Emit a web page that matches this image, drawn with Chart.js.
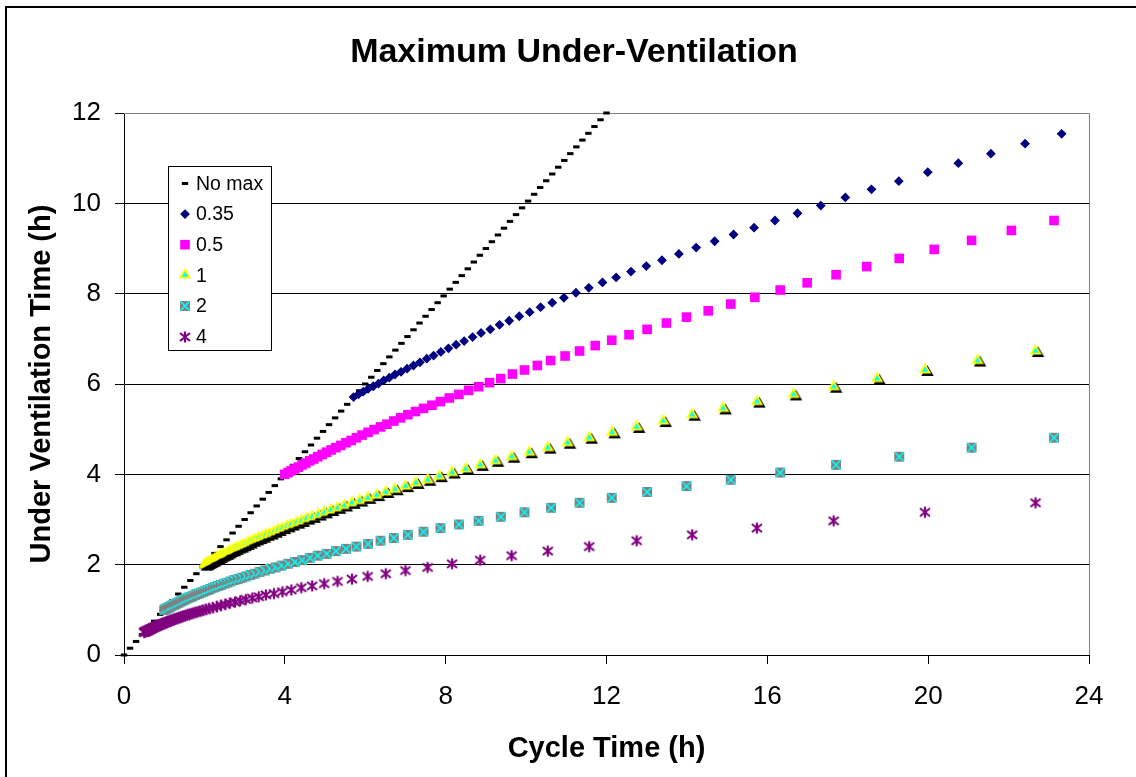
<!DOCTYPE html>
<html>
<head>
<meta charset="utf-8">
<script src="https://cdn.jsdelivr.net/npm/chart.js@4/dist/chart.umd.min.js"></script>
<style>
html,body{margin:0;padding:0;background:#fff;}
#wrap{position:relative;width:1136px;height:777px;overflow:hidden;}
</style>
</head>
<body>
<div id="wrap"><canvas id="c" width="1136" height="777"></canvas></div>
<script>
// ---------- texts & ticks ----------
const chartTitle = 'Maximum Under-Ventilation';
const xAxisTitle = 'Cycle Time (h)';
const yAxisTitle = 'Under Ventilation Time (h)';
const seriesLabels = ['No max', '0.35', '0.5', '1', '2', '4'];
const xTickValues = [0, 4, 8, 12, 16, 20, 24];
const yTickValues = [0, 2, 4, 6, 8, 10, 12];

// ---------- data (cycle time x, under-ventilation time y) ----------
const noMaxX = [0,0.15,0.3,0.45,0.6,0.75,0.9,1.05,1.2,1.35,1.5,1.65,1.8,1.95,2.1,2.25,2.4,2.55,2.7,2.85,3,3.15,3.3,3.45,3.6,3.75,3.9,4.05,4.2,4.35,4.5,4.65,4.8,4.95,5.1,5.25,5.4,5.55,5.7,5.85,6,6.15,6.3,6.45,6.6,6.75,6.9,7.05,7.2,7.35,7.5,7.65,7.8,7.95,8.1,8.25,8.4,8.55,8.7,8.85,9,9.15,9.3,9.45,9.6,9.75,9.9,10.05,10.2,10.35,10.5,10.65,10.8,10.95,11.1,11.25,11.4,11.55,11.7,11.85,12];
const noMaxY = [0,0.15,0.3,0.45,0.6,0.75,0.9,1.05,1.2,1.35,1.5,1.65,1.8,1.95,2.1,2.25,2.4,2.55,2.7,2.85,3,3.15,3.3,3.45,3.6,3.75,3.9,4.05,4.2,4.35,4.5,4.65,4.8,4.95,5.1,5.25,5.4,5.55,5.7,5.85,6,6.15,6.3,6.45,6.6,6.75,6.9,7.05,7.2,7.35,7.5,7.65,7.8,7.95,8.1,8.25,8.4,8.55,8.7,8.85,9,9.15,9.3,9.45,9.6,9.75,9.9,10.05,10.2,10.35,10.5,10.65,10.8,10.95,11.1,11.25,11.4,11.55,11.7,11.85,12];

const s035X = [5.71,5.83,5.95,6.07,6.20,6.33,6.46,6.60,6.74,6.89,7.04,7.20,7.36,7.53,7.70,7.88,8.07,8.26,8.46,8.67,8.88,9.11,9.34,9.58,9.83,10.09,10.36,10.65,10.94,11.24,11.56,11.90,12.24,12.61,12.99,13.38,13.80,14.23,14.69,15.16,15.67,16.19,16.75,17.33,17.94,18.59,19.27,19.99,20.75,21.56,22.41,23.32];
const s035Y = [5.71,5.77,5.83,5.89,5.95,6.01,6.08,6.14,6.21,6.27,6.34,6.41,6.48,6.56,6.63,6.71,6.79,6.87,6.95,7.04,7.13,7.21,7.31,7.40,7.50,7.59,7.70,7.80,7.91,8.02,8.13,8.25,8.36,8.49,8.61,8.74,8.88,9.02,9.16,9.31,9.46,9.62,9.78,9.95,10.13,10.31,10.49,10.69,10.89,11.10,11.32,11.54];

const s05X = [4.00,4.08,4.16,4.25,4.34,4.43,4.52,4.62,4.72,4.82,4.93,5.04,5.15,5.27,5.39,5.52,5.65,5.78,5.92,6.07,6.22,6.38,6.54,6.71,6.88,7.06,7.25,7.45,7.66,7.87,8.09,8.33,8.57,8.82,9.09,9.37,9.66,9.96,10.28,10.61,10.97,11.33,11.72,12.13,12.56,13.01,13.49,13.99,14.53,15.09,15.69,16.32,16.99,17.71,18.47,19.28,20.15,21.08,22.07,23.13];
const s05Y = [4.00,4.04,4.08,4.12,4.16,4.21,4.25,4.30,4.34,4.39,4.44,4.49,4.54,4.59,4.64,4.70,4.75,4.81,4.87,4.93,4.99,5.05,5.11,5.18,5.25,5.32,5.39,5.46,5.53,5.61,5.69,5.77,5.86,5.94,6.03,6.12,6.22,6.31,6.41,6.52,6.62,6.73,6.85,6.97,7.09,7.21,7.35,7.48,7.62,7.77,7.92,8.08,8.24,8.42,8.60,8.78,8.98,9.18,9.40,9.62];

const s1X = [2.00,2.04,2.08,2.12,2.17,2.21,2.26,2.31,2.36,2.41,2.46,2.52,2.58,2.63,2.70,2.76,2.82,2.89,2.96,3.03,3.11,3.19,3.27,3.35,3.44,3.53,3.63,3.73,3.83,3.94,4.05,4.16,4.29,4.41,4.54,4.68,4.83,4.98,5.14,5.31,5.48,5.67,5.86,6.06,6.28,6.51,6.74,7.00,7.26,7.55,7.84,8.16,8.50,8.86,9.24,9.64,10.08,10.54,11.03,11.57,12.14,12.75,13.41,14.13,14.90,15.74,16.65,17.65,18.73,19.92,21.23,22.67];
const s1Y = [2.00,2.02,2.04,2.06,2.08,2.10,2.13,2.15,2.17,2.20,2.22,2.24,2.27,2.30,2.32,2.35,2.38,2.40,2.43,2.46,2.49,2.53,2.56,2.59,2.62,2.66,2.69,2.73,2.77,2.81,2.85,2.89,2.93,2.97,3.02,3.06,3.11,3.16,3.21,3.26,3.31,3.37,3.42,3.48,3.54,3.61,3.67,3.74,3.81,3.88,3.96,4.04,4.12,4.21,4.30,4.39,4.49,4.59,4.70,4.81,4.93,5.05,5.18,5.32,5.46,5.61,5.77,5.94,6.12,6.31,6.52,6.73];

const s2X = [1.00,1.02,1.04,1.06,1.08,1.11,1.13,1.15,1.18,1.21,1.23,1.26,1.29,1.32,1.35,1.38,1.41,1.45,1.48,1.52,1.55,1.59,1.63,1.68,1.72,1.77,1.81,1.86,1.91,1.97,2.02,2.08,2.14,2.21,2.27,2.34,2.41,2.49,2.57,2.65,2.74,2.83,2.93,3.03,3.14,3.25,3.37,3.50,3.63,3.77,3.92,4.08,4.25,4.43,4.62,4.82,5.04,5.27,5.52,5.78,6.07,6.38,6.71,7.06,7.45,7.87,8.33,8.82,9.37,9.96,10.62,11.33,12.13,13.01,13.99,15.09,16.32,17.71,19.28,21.08,23.13];
const s2Y = [1.00,1.01,1.02,1.03,1.04,1.05,1.06,1.07,1.09,1.10,1.11,1.12,1.13,1.15,1.16,1.17,1.19,1.20,1.22,1.23,1.25,1.26,1.28,1.29,1.31,1.33,1.35,1.36,1.38,1.40,1.42,1.44,1.46,1.49,1.51,1.53,1.55,1.58,1.60,1.63,1.66,1.68,1.71,1.74,1.77,1.80,1.84,1.87,1.91,1.94,1.98,2.02,2.06,2.10,2.15,2.20,2.24,2.30,2.35,2.40,2.46,2.53,2.59,2.66,2.73,2.81,2.89,2.97,3.06,3.16,3.26,3.37,3.48,3.61,3.74,3.88,4.04,4.21,4.39,4.59,4.81];

const s4X = [0.50,0.51,0.52,0.53,0.54,0.55,0.57,0.58,0.59,0.60,0.62,0.63,0.64,0.66,0.67,0.69,0.71,0.72,0.74,0.76,0.78,0.80,0.82,0.84,0.86,0.88,0.91,0.93,0.96,0.98,1.01,1.04,1.07,1.10,1.14,1.17,1.21,1.25,1.29,1.33,1.37,1.42,1.47,1.52,1.57,1.63,1.69,1.75,1.82,1.89,1.96,2.04,2.12,2.21,2.31,2.41,2.52,2.63,2.76,2.89,3.03,3.19,3.35,3.53,3.73,3.94,4.16,4.41,4.68,4.98,5.31,5.67,6.06,6.51,7.00,7.55,8.16,8.86,9.64,10.54,11.57,12.75,14.13,15.74,17.65,19.92,22.67];
const s4Y = [0.50,0.51,0.51,0.52,0.52,0.53,0.53,0.54,0.54,0.55,0.55,0.56,0.57,0.57,0.58,0.59,0.59,0.60,0.61,0.62,0.62,0.63,0.64,0.65,0.66,0.66,0.67,0.68,0.69,0.70,0.71,0.72,0.73,0.74,0.75,0.77,0.78,0.79,0.80,0.81,0.83,0.84,0.86,0.87,0.89,0.90,0.92,0.94,0.95,0.97,0.99,1.01,1.03,1.05,1.07,1.10,1.12,1.15,1.17,1.20,1.23,1.26,1.29,1.33,1.36,1.40,1.44,1.49,1.53,1.58,1.63,1.68,1.74,1.80,1.87,1.94,2.02,2.10,2.20,2.30,2.40,2.53,2.66,2.81,2.97,3.16,3.37];

// ---------- helpers ----------
const FONT = "'Liberation Sans', Arial, Helvetica, sans-serif";
function pts(xs, ys) { return xs.map((x, i) => ({ x: x, y: ys[i] })); }
function mk(w, h) { const c = document.createElement('canvas'); c.width = w; c.height = h; return c; }

function triPath(ctx, cx, cy, r) {
  ctx.beginPath();
  ctx.moveTo(cx, cy - r);
  ctx.lineTo(cx + r * 0.866, cy + r * 0.5);
  ctx.lineTo(cx - r * 0.866, cy + r * 0.5);
  ctx.closePath();
}
function triangleMarker(withShadow) {
  const c = mk(22, 22), g = c.getContext('2d');
  g.lineJoin = 'miter';
  if (withShadow) {
    triPath(g, 13.5, 13.5, 5.4);
    g.fillStyle = '#000'; g.strokeStyle = '#000'; g.lineWidth = 1.8;
    g.fill(); g.stroke();
  }
  triPath(g, 11, 11, 5.4);
  g.fillStyle = '#00FFFF'; g.fill();
  g.strokeStyle = '#FFFF00'; g.lineWidth = 1.8; g.stroke();
  return c;
}
function squareXMarker() {
  const c = mk(12, 12), g = c.getContext('2d');
  g.fillStyle = '#808080'; g.fillRect(1, 1, 10, 10);
  g.strokeStyle = '#00FFFF'; g.lineWidth = 1.6;
  g.beginPath(); g.moveTo(1.5, 1.5); g.lineTo(10.5, 10.5); g.moveTo(10.5, 1.5); g.lineTo(1.5, 10.5); g.stroke();
  return c;
}
function starMarker() {
  const c = mk(14, 14), g = c.getContext('2d');
  g.strokeStyle = '#800080'; g.lineWidth = 2.2;
  g.beginPath();
  g.moveTo(7, 1.5); g.lineTo(7, 12.5);
  g.moveTo(2, 3); g.lineTo(12, 11);
  g.moveTo(12, 3); g.lineTo(2, 11);
  g.stroke();
  return c;
}
const triShadow = triangleMarker(true);
const triPlain = triangleMarker(false);
const sqX = squareXMarker();
const star = starMarker();

// ---------- plugins ----------
function drawMarker(ctx, ds, x, y) {
  const style = ds.legendPointStyle || ds.pointStyle;
  if (style instanceof HTMLCanvasElement) {
    ctx.drawImage(style, Math.round(x - style.width / 2), Math.round(y - style.height / 2));
    return;
  }
  const r = ds.pointRadius;
  ctx.save();
  ctx.fillStyle = ds.pointBackgroundColor;
  ctx.strokeStyle = ds.pointBorderColor;
  ctx.lineWidth = ds.pointBorderWidth;
  ctx.beginPath();
  if (style === 'rectRot') {
    ctx.moveTo(x, y - r); ctx.lineTo(x + r, y); ctx.lineTo(x, y + r); ctx.lineTo(x - r, y); ctx.closePath(); ctx.fill();
  } else if (style === 'rect') {
    const s = r * Math.SQRT1_2; ctx.rect(x - s, y - s, 2 * s, 2 * s); ctx.fill();
  } else if (style === 'line') {
    ctx.moveTo(x - r, y); ctx.lineTo(x + r, y); ctx.stroke();
  }
  ctx.restore();
}

const decorPlugin = {
  id: 'decor',
  beforeDatasetsDraw(chart) {
    const { ctx, chartArea: a } = chart;
    ctx.save();
    ctx.strokeStyle = '#808080'; ctx.lineWidth = 1;
    ctx.beginPath();
    ctx.moveTo(a.left, Math.round(a.top) + 0.5); ctx.lineTo(Math.round(a.right) + 0.5, Math.round(a.top) + 0.5);
    ctx.lineTo(Math.round(a.right) + 0.5, a.bottom);
    ctx.stroke();
    ctx.restore();
  },
  afterDraw(chart) {
    const { ctx } = chart;
    ctx.save();
    // outer chart border (top and left visible)
    ctx.fillStyle = '#000';
    ctx.fillRect(5, 6, chart.width - 5, 2);
    ctx.fillRect(5, 6, 2, chart.height - 6);
    // title
    ctx.fillStyle = '#000';
    ctx.font = "bold 34px " + FONT;
    ctx.textAlign = 'center'; ctx.textBaseline = 'middle';
    ctx.fillText(chartTitle, 574, 53);
    // legend box
    const bx = 168.5, by = 166.5, bw = 103, bh = 184;
    ctx.fillStyle = '#fff'; ctx.fillRect(bx, by, bw, bh);
    ctx.strokeStyle = '#000'; ctx.lineWidth = 1; ctx.strokeRect(bx, by, bw, bh);
    ctx.font = "19.5px " + FONT;
    ctx.textAlign = 'left'; ctx.textBaseline = 'middle';
    chart.data.datasets.forEach((ds, i) => {
      const ry = 183.5 + i * 30.6;
      drawMarker(ctx, ds, 185, ry);
      ctx.fillStyle = '#000';
      ctx.fillText(ds.label, 196, ry + 1);
    });
    ctx.restore();
  }
};

// ---------- chart ----------
const datasets = [
  { label: seriesLabels[0], data: pts(noMaxX, noMaxY), pointStyle: 'line', pointRadius: 3.2, pointBorderWidth: 3,
    pointBorderColor: '#000', pointBackgroundColor: '#000', order: 6 },
  { label: seriesLabels[1], data: pts(s035X, s035Y), pointStyle: 'rectRot', pointRadius: 4.9, pointBorderWidth: 0,
    pointBorderColor: '#000080', pointBackgroundColor: '#000080', order: 5 },
  { label: seriesLabels[2], data: pts(s05X, s05Y), pointStyle: 'rect', pointRadius: 6.8, pointBorderWidth: 0,
    pointBorderColor: '#FF00FF', pointBackgroundColor: '#FF00FF', order: 4 },
  { label: seriesLabels[3], data: pts(s1X, s1Y), pointStyle: triShadow, legendPointStyle: triPlain, pointRadius: 5,
    pointBorderColor: '#FFFF00', pointBackgroundColor: '#00FFFF', order: 3 },
  { label: seriesLabels[4], data: pts(s2X, s2Y), pointStyle: sqX, pointRadius: 5,
    pointBorderColor: '#00FFFF', pointBackgroundColor: '#808080', order: 2 },
  { label: seriesLabels[5], data: pts(s4X, s4Y), pointStyle: star, pointRadius: 5,
    pointBorderColor: '#800080', pointBackgroundColor: '#800080', order: 1 }
];
datasets.forEach(d => { d.showLine = false; d.clip = false; d.pointHoverRadius = d.pointRadius; });

new Chart(document.getElementById('c'), {
  type: 'scatter',
  data: { datasets: datasets },
  options: {
    responsive: false,
    animation: false,
    devicePixelRatio: 1,
    events: [],
    layout: { padding: { top: 113, right: 47, left: 0, bottom: 0 } },
    plugins: { legend: { display: false }, title: { display: false }, tooltip: { enabled: false } },
    scales: {
      x: {
        type: 'linear', min: 0, max: 24,
        afterBuildTicks: s => { s.ticks = xTickValues.map(v => ({ value: v })); },
        afterFit: s => { s.height = 122; },
        grid: { drawOnChartArea: false, drawTicks: true, tickLength: 9, color: '#000', lineWidth: 1 },
        border: { display: true, color: '#000', width: 1 },
        ticks: { color: '#000', font: { family: FONT, size: 26 }, padding: 17, maxRotation: 0, autoSkip: false },
        title: { display: true, text: xAxisTitle, color: '#000', font: { family: FONT, size: 29, weight: 'bold' },
                 padding: { top: 0, bottom: 11 } }
      },
      y: {
        type: 'linear', min: 0, max: 12,
        afterBuildTicks: s => { s.ticks = yTickValues.map(v => ({ value: v })); },
        afterFit: s => { s.width = 124; },
        grid: { drawOnChartArea: true, drawTicks: true, tickLength: 9, color: '#000', lineWidth: 1 },
        border: { display: true, color: '#000', width: 1 },
        ticks: { color: '#000', font: { family: FONT, size: 26 }, padding: 14, autoSkip: false },
        title: { display: true, text: yAxisTitle, color: '#000', font: { family: FONT, size: 29, weight: 'bold' },
                 padding: { top: 25, bottom: 0 } }
      }
    }
  },
  plugins: [decorPlugin]
});
</script>
</body>
</html>
